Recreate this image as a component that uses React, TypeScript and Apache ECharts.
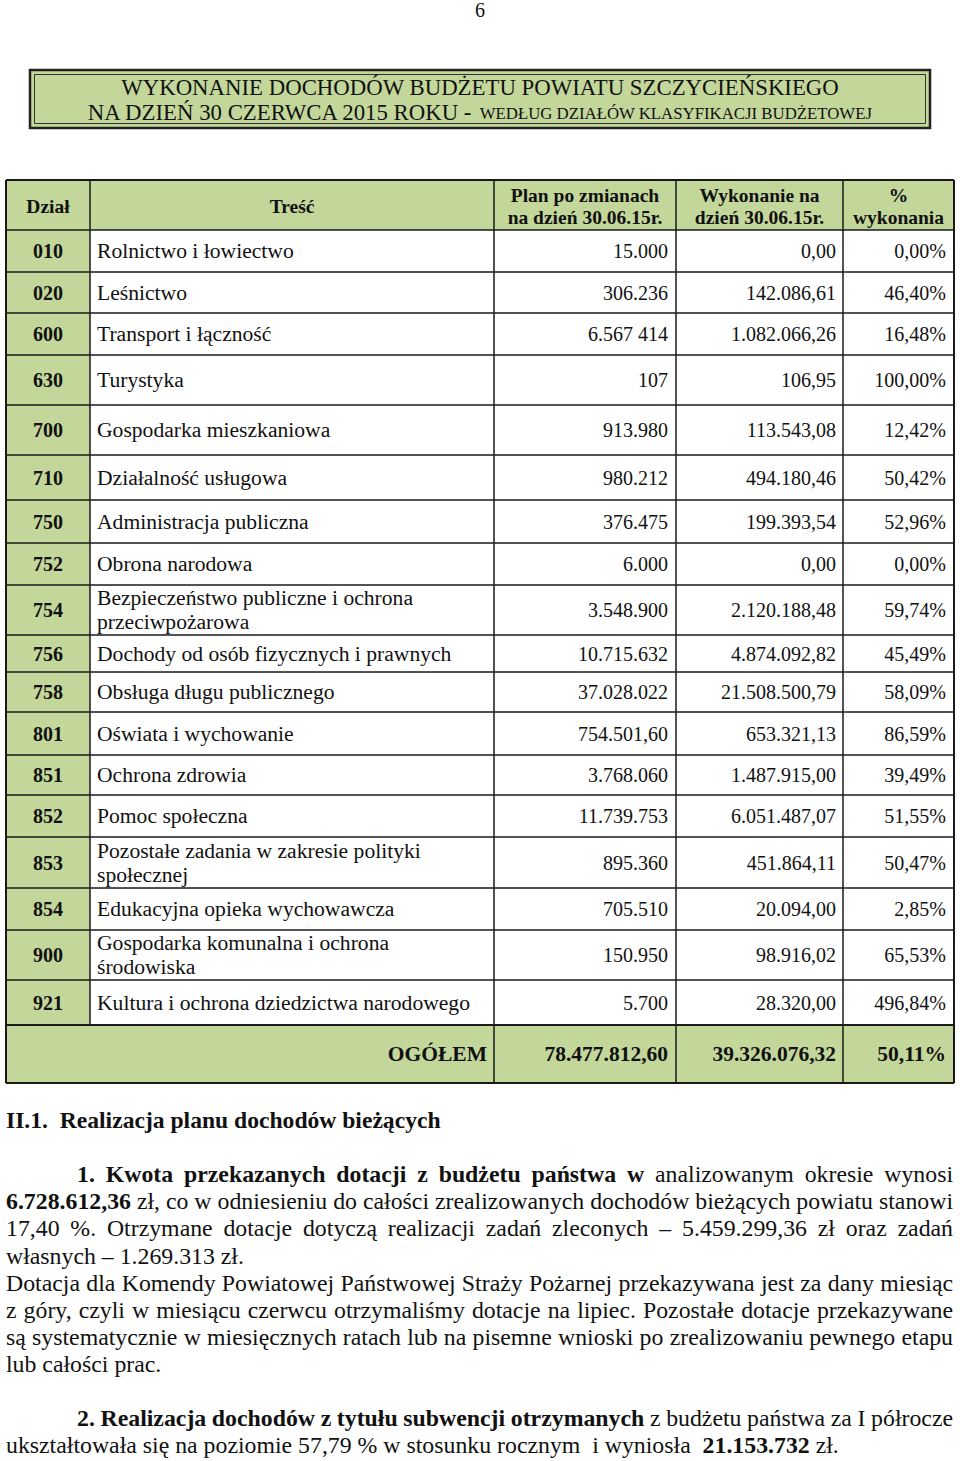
import React, { useEffect, useRef } from 'react';
import * as echarts from 'echarts';

// ---------- data ----------
const PAGE_NUMBER = '6';
const TITLE_LINE1 = 'WYKONANIE DOCHODÓW BUDŻETU POWIATU SZCZYCIEŃSKIEGO';
const TITLE_LINE2_MAIN = 'NA DZIEŃ 30 CZERWCA 2015 ROKU - ';
const TITLE_LINE2_SMALL = 'WEDŁUG DZIAŁÓW KLASYFIKACJI BUDŻETOWEJ';

const HEADERS = ['Dział', 'Treść', 'Plan po zmianach\nna dzień 30.06.15r.', 'Wykonanie na\ndzień 30.06.15r.', '%\nwykonania'];

const codes = ['010', '020', '600', '630', '700', '710', '750', '752', '754', '756', '758', '801', '851', '852', '853', '854', '900', '921'];
const names = [
  'Rolnictwo i łowiectwo',
  'Leśnictwo',
  'Transport i łączność',
  'Turystyka',
  'Gospodarka mieszkaniowa',
  'Działalność usługowa',
  'Administracja publiczna',
  'Obrona narodowa',
  'Bezpieczeństwo publiczne i ochrona\nprzeciwpożarowa',
  'Dochody od osób fizycznych i prawnych',
  'Obsługa długu publicznego',
  'Oświata i wychowanie',
  'Ochrona zdrowia',
  'Pomoc społeczna',
  'Pozostałe zadania w zakresie polityki\nspołecznej',
  'Edukacyjna opieka wychowawcza',
  'Gospodarka komunalna i ochrona\nśrodowiska',
  'Kultura i ochrona dziedzictwa narodowego',
];
const planValues = ['15.000', '306.236', '6.567 414', '107', '913.980', '980.212', '376.475', '6.000', '3.548.900', '10.715.632', '37.028.022', '754.501,60', '3.768.060', '11.739.753', '895.360', '705.510', '150.950', '5.700'];
const executedValues = ['0,00', '142.086,61', '1.082.066,26', '106,95', '113.543,08', '494.180,46', '199.393,54', '0,00', '2.120.188,48', '4.874.092,82', '21.508.500,79', '653.321,13', '1.487.915,00', '6.051.487,07', '451.864,11', '20.094,00', '98.916,02', '28.320,00'];
const percentValues = ['0,00%', '46,40%', '16,48%', '100,00%', '12,42%', '50,42%', '52,96%', '0,00%', '59,74%', '45,49%', '58,09%', '86,59%', '39,49%', '51,55%', '50,47%', '2,85%', '65,53%', '496,84%'];
const TOTAL_LABEL = 'OGÓŁEM';
const totalValues = ['78.477.812,60', '39.326.076,32', '50,11%'];

const SECTION_TITLE = 'II.1.  Realizacja planu dochodów bieżących';

type Seg = [string, boolean];
const paragraphLines: Seg[][] = [
  [['1. Kwota przekazanych dotacji z budżetu państwa w', true], ['analizowanym okresie wynosi', false]],
  [['6.728.612,36', true], ['zł, co w odniesieniu do całości zrealizowanych dochodów bieżących powiatu stanowi', false]],
  [['17,40 %. Otrzymane dotacje dotyczą realizacji zadań zleconych – 5.459.299,36 zł oraz zadań', false]],
  [['własnych – 1.269.313 zł.', false]],
  [['Dotacja dla Komendy Powiatowej Państwowej Straży Pożarnej przekazywana jest za dany miesiąc', false]],
  [['z góry, czyli w miesiącu czerwcu otrzymaliśmy dotacje na lipiec. Pozostałe dotacje przekazywane', false]],
  [['są systematycznie w miesięcznych ratach lub na pisemne wnioski po zrealizowaniu pewnego etapu', false]],
  [['lub całości prac.', false]],
  [['2. Realizacja dochodów z tytułu subwencji otrzymanych', true], ['z budżetu państwa za I półrocze', false]],
  [['ukształtowała się na poziomie 57,79 % w stosunku rocznym  i wyniosła ', false], ['21.153.732', true], ['zł.', false]],
];

// ---------- layout (positions / sizes / styles) ----------
const FONT = "'Liberation Serif', 'Times New Roman', serif";
const INK = '#111111';
const GREEN = '#c4d79b';
const COL_X = [6, 90, 494, 676, 843, 954];
const HEADER_TOP = 180;
const HEADER_H = 50;
const ROW_H = [42, 41, 42, 50, 50, 45, 43, 42, 50, 37, 40, 43, 40, 42, 51, 42, 50, 45];
const TOTAL_H = 58;
const PARA_Y = [1174, 1201, 1228, 1256, 1283, 1310, 1337, 1364, 1418, 1445];
const PARA_INDENT = [true, false, false, false, false, false, false, false, true, false];
const PARA_JUSTIFY = [true, true, true, false, true, true, true, false, true, false];
const PARA_LEFT = 6;
const PARA_RIGHT = 953;
const PARA_INDENT_X = 77;
const PARA_SIZE = 23.8;
const TITLE_SIZE = 22.8;
const TITLE_SMALL_SIZE = 16.8;
const NAME_SIZE = 21.6;

const canvas = typeof document !== 'undefined' ? document.createElement('canvas') : null;
const ctx = canvas ? canvas.getContext('2d') : null;
function measure(text: string, size: number, bold: boolean): number {
  if (!ctx) return text.length * size * 0.45;
  ctx.font = `${bold ? 'bold ' : ''}${size}px "Liberation Serif"`;
  return ctx.measureText(text).width;
}

function txt(x: number, y: number, text: string, size: number, bold: boolean, align = 'left', vAlign = 'middle', extra: any = {}) {
  return {
    type: 'text',
    x,
    y,
    silent: true,
    style: {
      text,
      fontSize: size,
      fontWeight: bold ? 'bold' : 'normal',
      fontFamily: FONT,
      fill: INK,
      align,
      verticalAlign: vAlign,
      ...extra,
    },
  };
}

function line(x1: number, y1: number, x2: number, y2: number, w = 1.5) {
  return { type: 'line', silent: true, shape: { x1, y1, x2, y2 }, style: { stroke: '#1a1a1a', lineWidth: w } };
}

function buildOption() {
  const els: any[] = [];

  // page number
  els.push(txt(480, 10, PAGE_NUMBER, 20, false, 'center'));

  // title box
  els.push({ type: 'rect', silent: true, shape: { x: 30, y: 70, width: 900, height: 58 }, style: { fill: GREEN, stroke: '#222', lineWidth: 2.5 } });
  els.push({ type: 'rect', silent: true, shape: { x: 34.5, y: 74.5, width: 891, height: 49 }, style: { fill: 'none', stroke: '#333', lineWidth: 1 } });
  els.push(txt(480, 87, TITLE_LINE1, TITLE_SIZE, false, 'center', 'middle', { lineHeight: 22 }));
  const wMain = measure(TITLE_LINE2_MAIN, TITLE_SIZE, false);
  const wSmall = measure(TITLE_LINE2_SMALL, TITLE_SMALL_SIZE, false);
  const startX = 480 - (wMain + wSmall) / 2;
  els.push(txt(startX, 112, TITLE_LINE2_MAIN, TITLE_SIZE, false, 'left', 'middle', { lineHeight: 22 }));
  els.push(txt(startX + wMain, 113.5, TITLE_LINE2_SMALL, TITLE_SMALL_SIZE, false, 'left', 'middle', { lineHeight: 17 }));

  // table geometry
  const rowTops: number[] = [];
  let y = HEADER_TOP + HEADER_H;
  ROW_H.forEach((h) => { rowTops.push(y); y += h; });
  const totalTop = y;
  const tableBottom = totalTop + TOTAL_H;
  const left = COL_X[0];
  const right = COL_X[COL_X.length - 1];

  // fills
  els.push({ type: 'rect', silent: true, shape: { x: left, y: HEADER_TOP, width: right - left, height: tableBottom - HEADER_TOP }, style: { fill: '#ffffff' } });
  els.push({ type: 'rect', silent: true, shape: { x: left, y: HEADER_TOP, width: COL_X[1] - left, height: tableBottom - HEADER_TOP }, style: { fill: GREEN } });
  els.push({ type: 'rect', silent: true, shape: { x: left, y: HEADER_TOP, width: right - left, height: HEADER_H }, style: { fill: GREEN } });
  els.push({ type: 'rect', silent: true, shape: { x: left, y: totalTop, width: right - left, height: TOTAL_H }, style: { fill: GREEN } });

  // horizontal lines
  els.push(line(left, HEADER_TOP, right, HEADER_TOP, 2));
  els.push(line(left, HEADER_TOP + HEADER_H, right, HEADER_TOP + HEADER_H));
  rowTops.forEach((t, i) => { if (i > 0) els.push(line(left, t, right, t)); });
  els.push(line(left, totalTop, right, totalTop, 2));
  els.push(line(left, tableBottom, right, tableBottom, 2));

  // vertical lines
  els.push(line(left, HEADER_TOP, left, tableBottom, 2));
  els.push(line(right, HEADER_TOP, right, tableBottom, 2));
  els.push(line(COL_X[1], HEADER_TOP, COL_X[1], totalTop));
  [2, 3, 4].forEach((c) => els.push(line(COL_X[c], HEADER_TOP, COL_X[c], tableBottom)));

  // header
  const hMid = HEADER_TOP + HEADER_H / 2;
  HEADERS.forEach((h, c) => {
    const cx = (COL_X[c] + COL_X[c + 1]) / 2;
    els.push(txt(cx, hMid + 1, h, 19.5, true, 'center', 'middle', { lineHeight: 22 }));
  });

  // body rows
  codes.forEach((code, i) => {
    const mid = rowTops[i] + ROW_H[i] / 2;
    els.push(txt((COL_X[0] + COL_X[1]) / 2, mid, code, 20, true, 'center'));
    els.push(txt(COL_X[1] + 7, mid, names[i], NAME_SIZE, false, 'left', 'middle', { lineHeight: 24 }));
    els.push(txt(COL_X[3] - 8, mid, planValues[i], 20, false, 'right'));
    els.push(txt(COL_X[4] - 7, mid, executedValues[i], 20, false, 'right'));
    els.push(txt(COL_X[5] - 8, mid, percentValues[i], 20, false, 'right'));
  });

  // total row
  const tMid = totalTop + TOTAL_H / 2;
  els.push(txt(COL_X[2] - 7, tMid, TOTAL_LABEL, 21.5, true, 'right'));
  els.push(txt(COL_X[3] - 8, tMid, totalValues[0], 21.5, true, 'right'));
  els.push(txt(COL_X[4] - 7, tMid, totalValues[1], 21.5, true, 'right'));
  els.push(txt(COL_X[5] - 8, tMid, totalValues[2], 21.5, true, 'right'));

  // section title
  els.push(txt(6, 1120, SECTION_TITLE, 23.6, true, 'left'));

  // paragraphs
  paragraphLines.forEach((segs, li) => {
    const words: { t: string; b: boolean }[] = [];
    segs.forEach(([s, b]) => {
      s.split(' ').forEach((w) => words.push({ t: w, b }));
    });
    const startX = PARA_INDENT[li] ? PARA_INDENT_X : PARA_LEFT;
    const ly = PARA_Y[li];
    if (PARA_JUSTIFY[li]) {
      const ws = words.filter((w) => w.t.length > 0);
      const widths = ws.map((w) => measure(w.t, PARA_SIZE, w.b));
      const sum = widths.reduce((a, b) => a + b, 0);
      const gap = Math.max(2, (PARA_RIGHT - startX - sum) / (ws.length - 1));
      let x = startX;
      ws.forEach((w, k) => {
        els.push(txt(x, ly, w.t, PARA_SIZE, w.b, 'left'));
        x += widths[k] + gap;
      });
    } else {
      let x = startX;
      words.forEach((w) => {
        if (w.t.length > 0) {
          els.push(txt(x, ly, w.t, PARA_SIZE, w.b, 'left'));
          x += measure(w.t, PARA_SIZE, w.b);
        }
        x += measure(' ', PARA_SIZE, w.b);
      });
    }
  });

  return {
    animation: false,
    backgroundColor: '#ffffff',
    graphic: { elements: els },
  };
}

export default function App() {
  const ref = useRef<HTMLDivElement>(null);
  useEffect(() => {
    if (!ref.current) return;
    const chart = echarts.init(ref.current, null, { renderer: 'svg', width: 960, height: 1461 });
    chart.setOption(buildOption() as any);
    return () => chart.dispose();
  }, []);
  return <div ref={ref} style={{ position: 'absolute', left: 0, top: 0, width: 960, height: 1461 }} />;
}
